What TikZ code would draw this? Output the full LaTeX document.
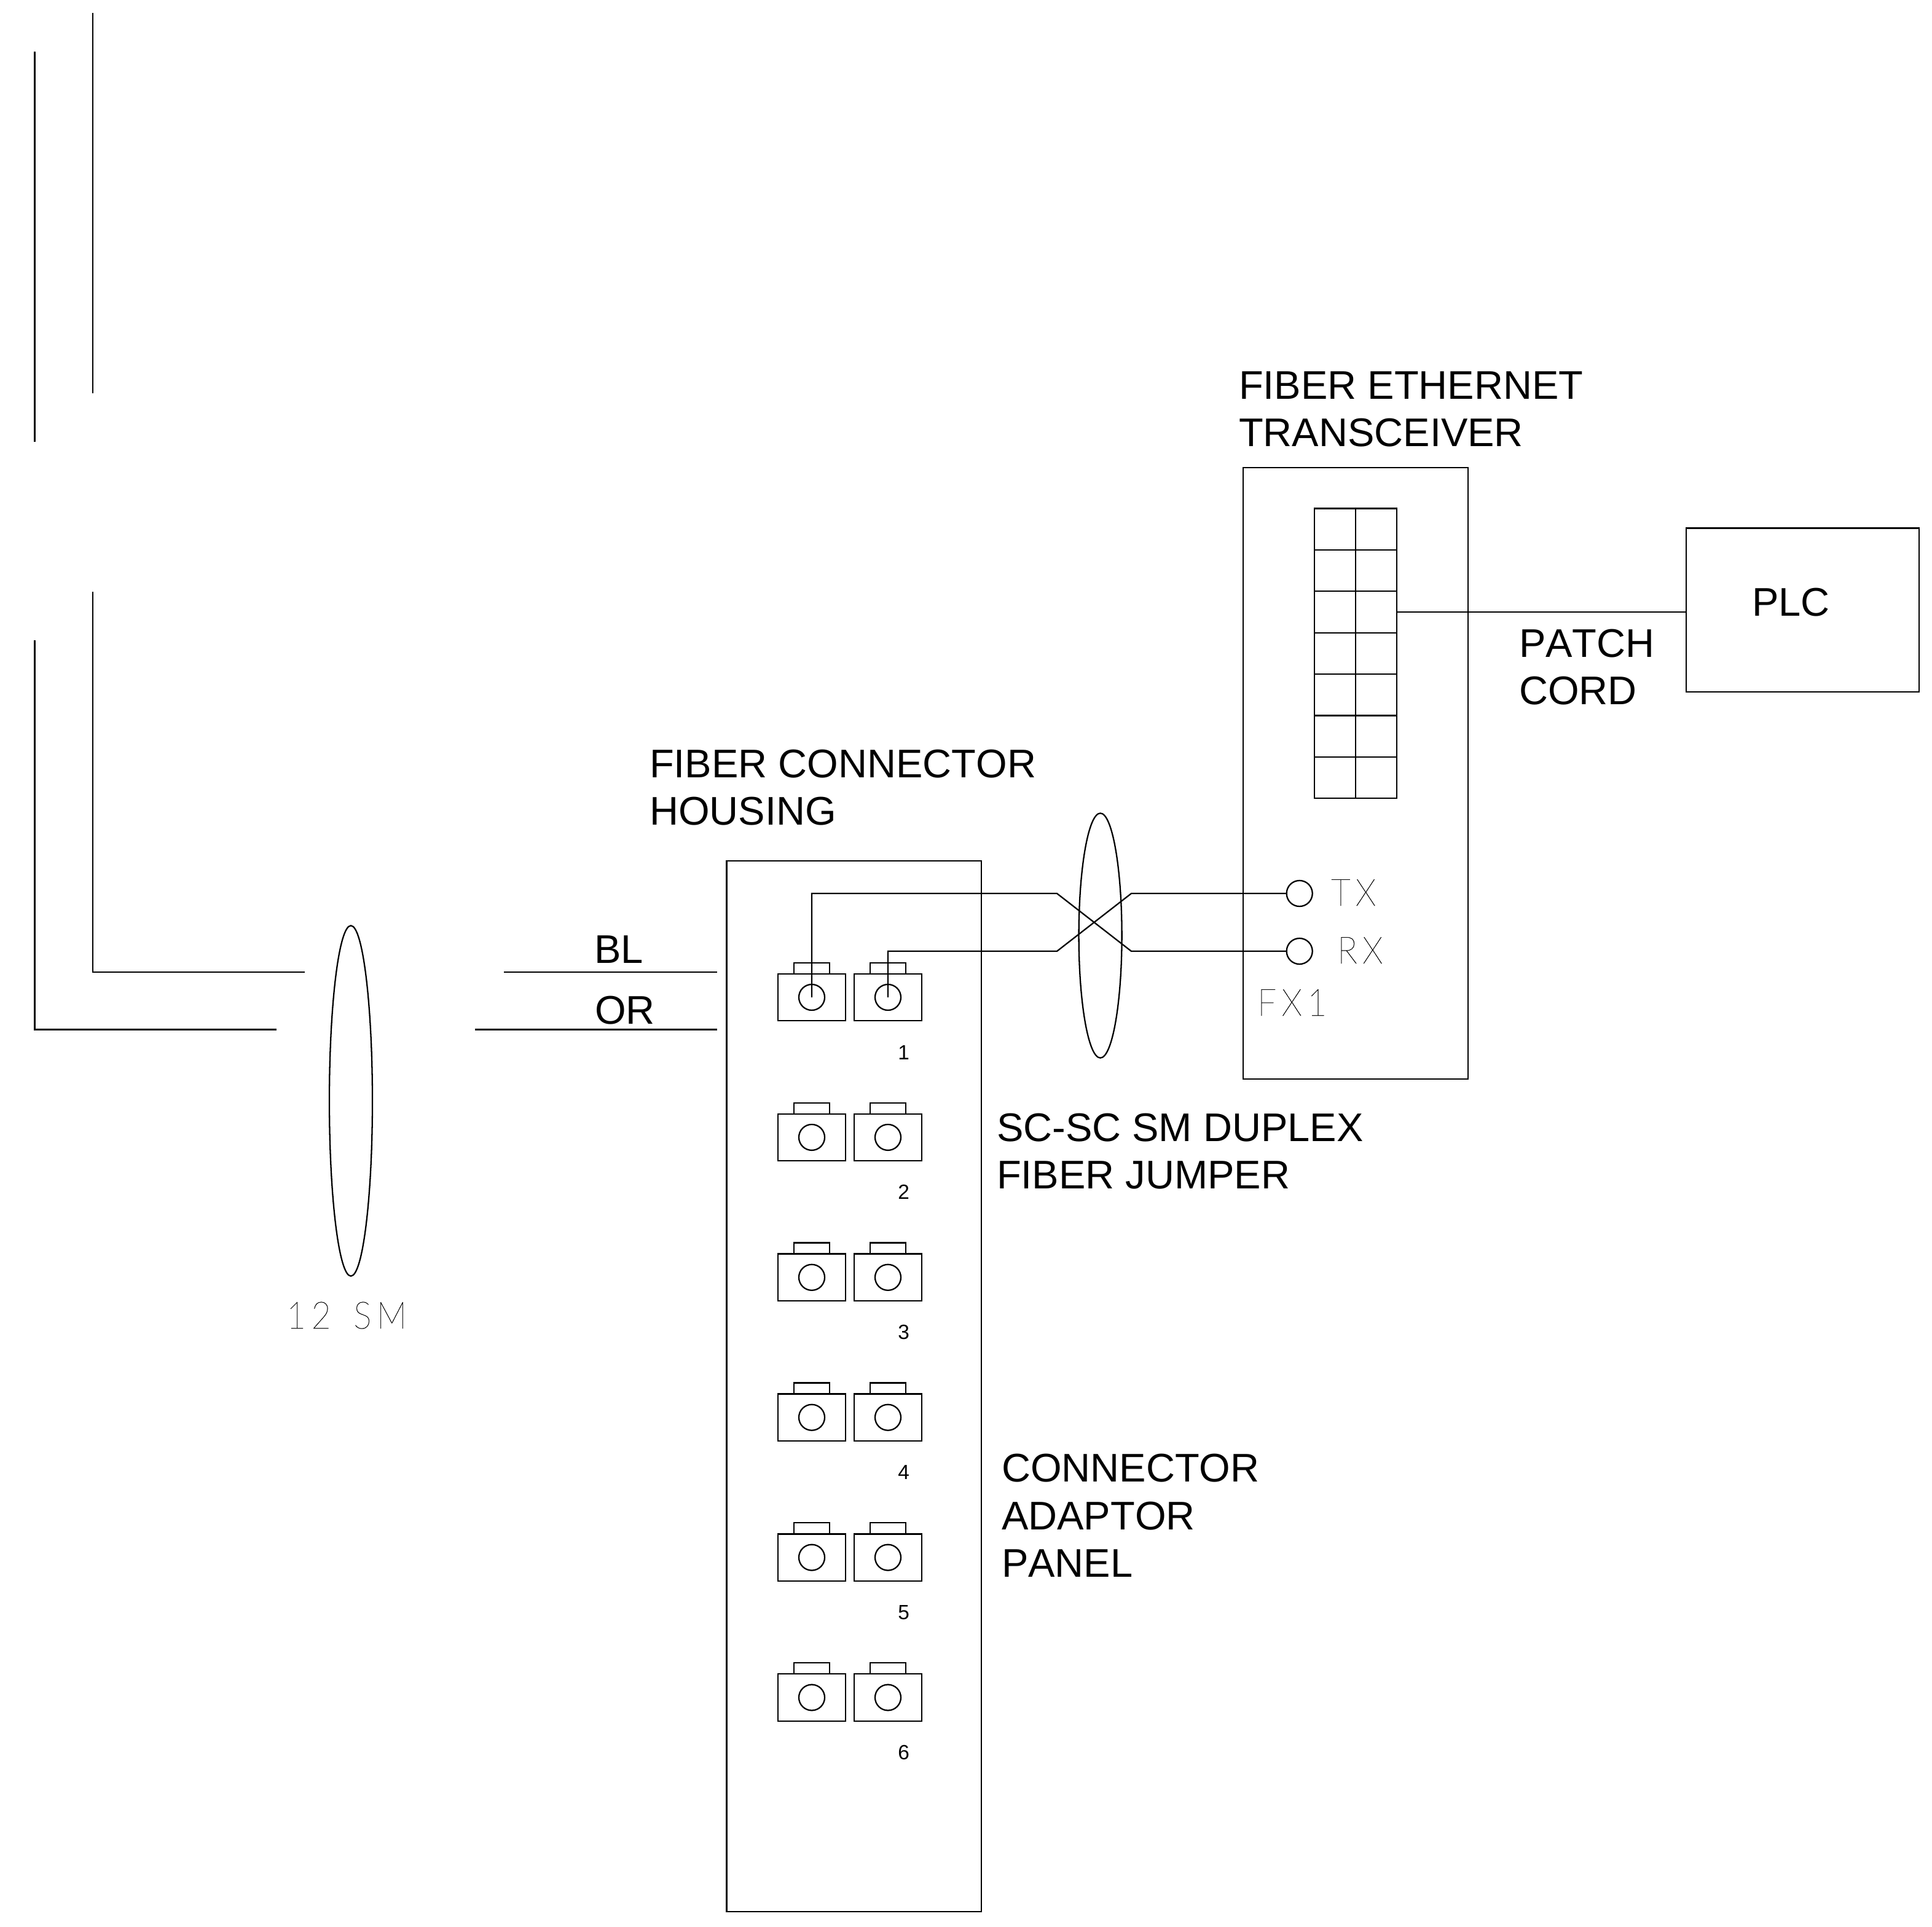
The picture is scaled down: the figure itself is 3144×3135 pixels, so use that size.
\documentclass[tikz,border=0pt]{standalone}
\usepackage{fontspec}
\setmainfont[Kerning=Off]{Liberation Sans}
\newfontfamily\thinfont[LetterSpace=14,FakeStretch=0.9,FakeBold=0.4]{Lato Thin}
\usepackage{tikz}
\usetikzlibrary{shapes.geometric}

\begin{document}
\begin{tikzpicture}[x=0.01cm, y=-0.01cm, line width=0.65pt,
	box/.style={draw, rectangle, inner sep=0pt, outer sep=0pt},
	adaptor/.style={box, minimum width=1.10cm, minimum height=0.765cm},
	latch/.style={box, minimum width=0.585cm, minimum height=0.18cm},
	cell/.style={box, minimum width=0.67cm, minimum height=0.674cm},
	port/.style={draw, circle, inner sep=0pt, outer sep=0pt, minimum size=0.42cm},
	bundle/.style={draw, ellipse, inner sep=0pt, outer sep=0pt, minimum width=0.70cm},
	label/.style={anchor=south west, inner sep=0pt, text depth=0pt, align=left, font=\fontsize{18.5}{22.05}\selectfont},
	thinlabel/.style={anchor=base west, inner sep=0pt, font=\thinfont\fontsize{17.4}{20}\selectfont},
	number/.style={anchor=base, inner sep=0pt, font=\fontsize{9.5}{11}\selectfont}]
	\useasboundingbox (0,0) rectangle (3144,3135.6);

	\node[box, minimum width=4.14cm, minimum height=17.09cm](housing) at (1389.7,2256) {};
	\node[box, minimum width=3.66cm, minimum height=9.94cm](transceiver) at (2206,1258.5) {};
	\node[box, minimum width=3.79cm, minimum height=2.665cm](plc) at (2933.5,992.7) {};
	\node[bundle, minimum height=5.70cm](sm) at (571,1791.5) {};
	\node[bundle, minimum height=3.98cm](jumper) at (1790.6,1522.5) {};

	\foreach \i [evaluate=\i as \yy using 1623+227.9*(\i-1)] in {1,...,6} {
		\node[adaptor](a\i) at (1321,\yy) {};
		\node[adaptor](b\i) at (1445,\yy) {};
		\node[latch, above=0pt](la\i) at (a\i.north) {};
		\node[latch, above=0pt](lb\i) at (b\i.north) {};
		\node[port](pa\i) at (a\i) {};
		\node[port](pb\i) at (b\i) {};
		\node[number](n\i) at (1470.7,\yy+101) {\i};
	}

	\foreach \r [evaluate=\r as \yy using 861.2+67.4*(\r-1)] in {1,...,7} {
		\node[cell](ca\r) at (2172.5,\yy) {};
		\node[cell](cb\r) at (2239.5,\yy) {};
	}

	\node[port](tx) at (2114.7,1454) {};
	\node[port](rx) at (2114.7,1548) {};

	\coordinate(j1) at (1720,1454);
	\coordinate(j2) at (1720,1548);
	\coordinate(j3) at (1841,1454);
	\coordinate(j4) at (1841,1548);
	\draw(pa1.center) |- (j1) -- (j4) -- (rx);
	\draw(pb1.center) |- (j2) -- (j3) -- (tx);
	\draw(cb3.east) -- (cb3 -| plc.west);

	\coordinate(blA) at (151,21);
	\coordinate(blB) at (151,640);
	\coordinate(blC) at (151,963);
	\coordinate(blD) at (151,1582);
	\coordinate(blE) at (496,1582);
	\coordinate(blF) at (820,1582);
	\coordinate(blG) at (1167,1582);
	\coordinate(orA) at (56.5,84);
	\coordinate(orB) at (56.5,719);
	\coordinate(orC) at (56.5,1042);
	\coordinate(orD) at (56.5,1675.5);
	\coordinate(orE) at (449.5,1675.5);
	\coordinate(orF) at (773,1675.5);
	\coordinate(orG) at (1167,1675.5);
	\draw(blA) -- (blB);
	\draw(blC) -- (blD) -- (blE);
	\draw(blF) -- (blG);
	\draw(orA) -- (orB);
	\draw(orC) -- (orD) -- (orE);
	\draw(orF) -- (orG);

	\node[label](tlabel) at (2015,728) {FIBER ETHERNET\\TRANSCEIVER};
	\node[label](hlabel) at (1056,1344) {FIBER CONNECTOR\\HOUSING};
	\node[label](jlabel) at (1621,1936) {SC-SC SM DUPLEX\\FIBER JUMPER};
	\node[label](alabel) at (1629,2568) {CONNECTOR\\ADAPTOR\\PANEL};
	\node[label](pclabel) at (2471,1148) {PATCH\\CORD};
	\node[label](plclabel) at (2850,1004) {PLC};
	\node[label](bllabel) at (966,1569) {BL};
	\node[label](orlabel) at (967,1668) {OR};
	\node[thinlabel](smlabel) at (465,2162) {12\hspace{0.6em}SM};
	\node[thinlabel](txlabel) at (2165,1474) {TX};
	\node[thinlabel](rxlabel) at (2175,1568) {RX};
	\node[thinlabel](fxlabel) at (2045,1653) {FX1};
\end{tikzpicture}
\end{document}
